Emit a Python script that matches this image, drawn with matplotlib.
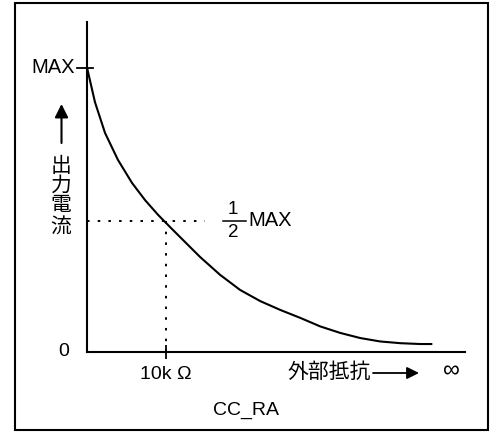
import matplotlib
matplotlib.use("Agg")
import matplotlib.pyplot as plt
from matplotlib.patches import Rectangle

plt.rcParams['font.family'] = ['Liberation Sans', 'Noto Sans CJK JP', 'DejaVu Sans']

# curve: external resistance (kOhm) vs output current (fraction of MAX)
resistance = [0.0, 1.01, 2.28, 3.92, 5.70, 7.34, 8.99, 10.51, 11.77, 14.30, 16.84,
              19.37, 21.90, 24.43, 26.96, 29.49, 32.03, 34.56, 37.09, 39.62, 42.15, 43.67]
current = [1.0, 0.878, 0.770, 0.675, 0.594, 0.534, 0.482, 0.439, 0.404, 0.334, 0.271,
           0.218, 0.179, 0.148, 0.120, 0.090, 0.067, 0.049, 0.037, 0.031, 0.028, 0.028]

max_level = 1.0
half_level = 0.46
half_r = 10.0
x_max = 47.8
y_max = 1.16

W, H = 493, 432


def fx(x):
    return x / W


def fy(y):
    return 1 - y / H


fig = plt.figure(figsize=(W / 100, H / 100), dpi=100)
ax = fig.add_axes([fx(87), fy(352), fx(465) - fx(87), fy(22) - fy(352)])

ax.plot(resistance, current, color='black', lw=1.5, solid_capstyle='butt',
        solid_joinstyle='round')

# dotted guides for the 1/2 MAX point
ax.plot([0, 14.9], [half_level, half_level], color='black', lw=1.4,
        linestyle=(0, (1.3, 4.2)))
ax.plot([half_r, half_r], [half_level, 0], color='black', lw=1.4,
        linestyle=(0, (1.3, 4.2)))

# MAX tick crossing the y axis
ax.plot([-1.27, 0.76], [max_level, max_level], color='black', lw=1.3, clip_on=False)

ax.set_xlim(0, x_max)
ax.set_ylim(0, y_max)
for s in ['top', 'right']:
    ax.spines[s].set_visible(False)
for s in ['left', 'bottom']:
    ax.spines[s].set_linewidth(1.5)

ax.set_xticks([half_r])
ax.set_xticklabels(['10k Ω'], fontsize=14)
ax.tick_params(axis='x', direction='inout', length=10, width=1.3, pad=5)
ax.set_yticks([])

ax.text(-1.5, max_level, 'MAX', ha='right', va='center', fontsize=14.5)
ax.text(-2.9, 0, '0', ha='center', va='center', fontsize=14)

# 1/2 MAX label
fig.text(fx(233), fy(209.5), '1', ha='center', va='center', fontsize=13.5)
fig.text(fx(233), fy(232.5), '2', ha='center', va='center', fontsize=13.5)
fig.add_artist(plt.Line2D([fx(223), fx(246)], [fy(221), fy(221)], color='black', lw=1.1))
fig.text(fx(248), fy(220), 'MAX', ha='left', va='center', fontsize=14.5)

# x axis caption
fig.text(fx(287), fy(372.5), '外部抵抗', ha='left', va='center', fontsize=15)
ax.annotate('', xy=(fx(419), fy(373)), xytext=(fx(373), fy(373)),
            xycoords='figure fraction', textcoords='figure fraction',
            arrowprops=dict(arrowstyle='-|>', color='black', lw=1.3,
                            mutation_scale=18, shrinkA=0, shrinkB=0))
fig.text(fx(451), fy(371), '∞', ha='center', va='center', fontsize=17)

# y axis caption
ax.annotate('', xy=(fx(61.5), fy(104)), xytext=(fx(61.5), fy(143)),
            xycoords='figure fraction', textcoords='figure fraction',
            arrowprops=dict(arrowstyle='-|>', color='black', lw=1.5,
                            mutation_scale=20, shrinkA=0, shrinkB=0))
for ch, yc in zip('出力電流', [166, 186, 206, 227]):
    fig.text(fx(61), fy(yc), ch, ha='center', va='center', fontsize=15)

fig.text(fx(246), fy(410), 'CC_RA', ha='center', va='center', fontsize=14)

# outer frame
fig.add_artist(Rectangle((fx(15), fy(430)), fx(488) - fx(15), fy(3) - fy(430),
                         transform=fig.transFigure, fill=False, lw=1.5,
                         edgecolor='black'))

fig.savefig('out.png', dpi=100)
